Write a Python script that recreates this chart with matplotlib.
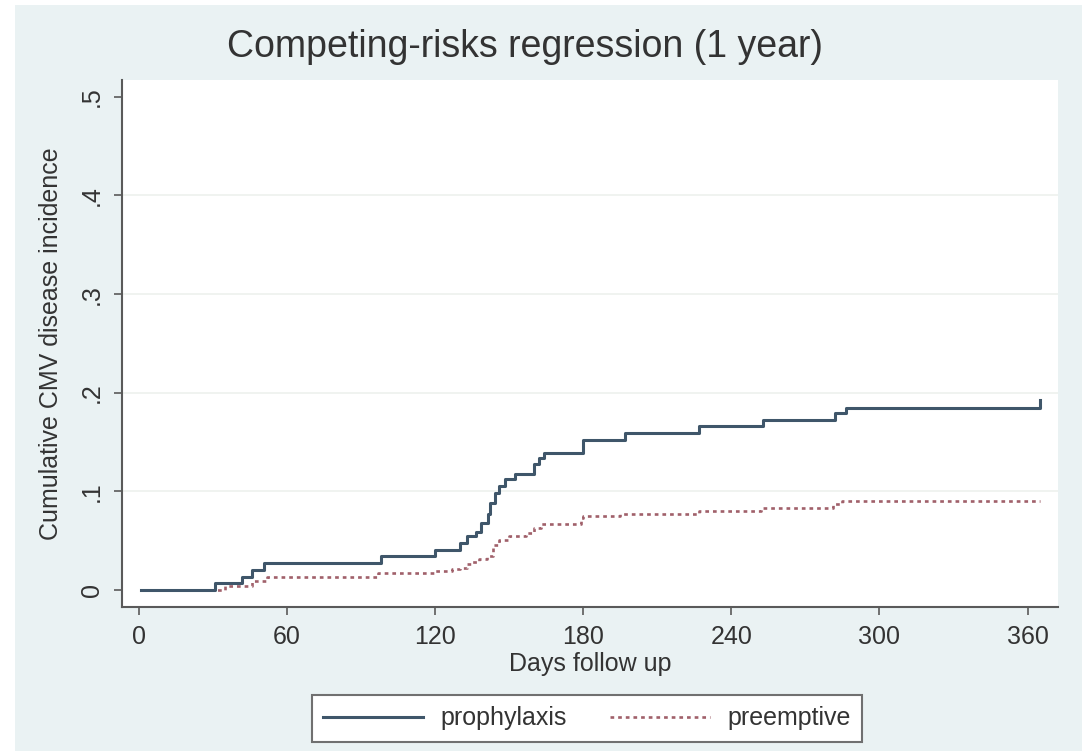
import matplotlib
matplotlib.use("Agg")
import matplotlib.pyplot as plt
from matplotlib.patches import Rectangle

plt.rcParams["font.family"] = ["Liberation Sans", "DejaVu Sans"]

# Cumulative incidence step functions (day of event, value after step)
prophylaxis_days = [1, 31, 42, 46, 51, 98, 120, 130, 133, 136.5, 138.5, 141.5,
                    142.5, 144.5, 146, 148.5, 152.5, 160, 162, 164, 180, 197,
                    227, 253, 282, 286.5, 365]
prophylaxis_cif = [0, .007, .013, .020, .027, .034, .041, .048, .055, .059,
                   .068, .077, .088, .098, .105, .113, .118, .128, .134, .139,
                   .152, .159, .166, .172, .179, .185, .193]

preemptive_days = [1, 35, 46, 52, 97, 120, 127, 130, 133, 135, 138, 141,
                   143.5, 146, 150, 157, 160, 163, 179, 180, 195, 227, 252,
                   281, 285, 365]
preemptive_cif = [0, .004, .009, .0135, .017, .019, .021, .022, .026, .028,
                  .031, .034, .046, .051, .055, .0575, .0625, .0666, .0727,
                  .075, .077, .080, .0835, .087, .0906, .0906]

x_ticks = [0, 60, 120, 180, 240, 300, 360]
y_ticks = [0, .1, .2, .3, .4, .5]
y_tick_labels = ["0", ".1", ".2", ".3", ".4", ".5"]

BG = "#eaf2f3"
AXIS_GRAY = "#5a5a5a"
W, H = 1088, 751

fig = plt.figure(figsize=(W / 100, H / 100), dpi=100, facecolor="white")

# Stata-style graph region background, kept behind the axes
fig.patches.append(Rectangle((15 / W, 0), (1082 - 15) / W, 1 - 5 / H,
                             transform=fig.transFigure, facecolor=BG,
                             edgecolor="none", zorder=-10))

ax = fig.add_axes([122 / W, 1 - 607 / H, (1058 - 122) / W, (607 - 80) / H])
ax.set_facecolor("white")

for y in y_ticks[1:-1]:
    ax.axhline(y, color="#eef1ee", linewidth=1.2, zorder=1)

ax.step(prophylaxis_days, prophylaxis_cif, where="post", color="#3f566a",
        linewidth=2.2, label="prophylaxis", zorder=3)
ax.step(preemptive_days, preemptive_cif, where="post", color="#a0606a",
        linewidth=1.9, linestyle=(0, (1.4, 1.5)), label="preemptive", zorder=2)

ax.set_xlim(-6.7, 372.3)
ax.set_ylim(-0.0172, 0.517)
ax.set_xticks(x_ticks)
ax.set_yticks(y_ticks)
ax.set_yticklabels(y_tick_labels, rotation=90, va="center")

for side in ("top", "right"):
    ax.spines[side].set_visible(False)
for side in ("left", "bottom"):
    ax.spines[side].set_color(AXIS_GRAY)
    ax.spines[side].set_linewidth(1.5)

ax.tick_params(axis="both", direction="out", length=6, width=1.2,
               color=AXIS_GRAY, labelsize=18, labelcolor="#333333", pad=7)

ax.set_xlabel("Days follow up", fontsize=18, color="#333333", labelpad=2)
ax.set_ylabel("Cumulative CMV disease incidence", fontsize=18,
              color="#333333", labelpad=12)

fig.text(525 / W, 1 - 47 / H, "Competing-risks regression (1 year)",
         fontsize=27, color="#333333", ha="center", va="center")

leg = fig.legend(loc="center", bbox_to_anchor=(587 / W, 1 - 718.5 / H),
                 ncol=2, fontsize=18, handlelength=4, handletextpad=0.7,
                 columnspacing=1.7, borderpad=0.45, fancybox=False,
                 framealpha=1, edgecolor="#707070")
leg.get_frame().set_linewidth(1.5)
for t in leg.get_texts():
    t.set_color("#333333")

fig.savefig("out.png", dpi=100, facecolor="white")
